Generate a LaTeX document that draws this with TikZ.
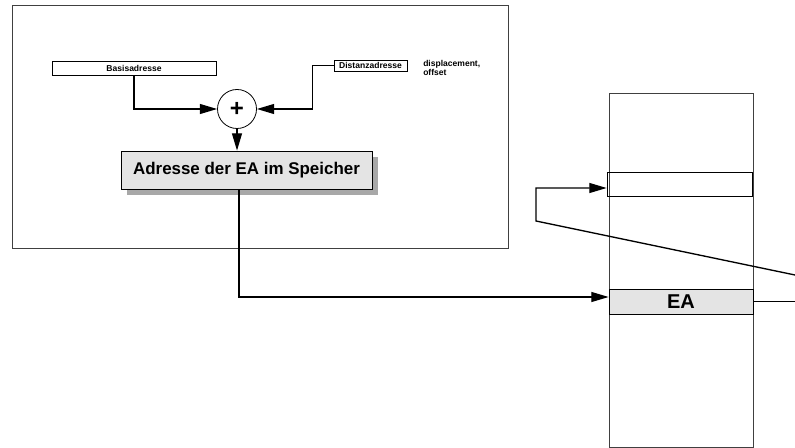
\documentclass[tikz,border=0pt]{standalone}
\usepackage{fontspec}
\setmainfont{Liberation Sans}
\usepackage{tikz}
\usetikzlibrary{positioning,arrows.meta,shadows}
\definecolor{cellgray}{HTML}{E4E4E4}
\definecolor{shadowgray}{HTML}{A8A8A8}
\definecolor{framegray}{HTML}{404040}

\begin{document}
\begin{tikzpicture}[x=0.75pt,y=-0.75pt,
    conn/.style={black,line width=1pt,-{Triangle[length=13pt,width=7.5pt]}},
    wire/.style={black,line width=1pt},
    smallbox/.style={draw,line width=0.6pt,inner sep=0pt,font=\fontsize{6.4}{7}\selectfont\bfseries},
    mem/.style={draw=framegray,line width=0.6pt,inner sep=0pt}]
  \useasboundingbox (0,0) rectangle (795,448);
  % Rechenwerk
  \draw[framegray,line width=0.6pt] (12,5) rectangle (508,248);
  \node[smallbox,minimum width=123pt,minimum height=10.5pt] (basis) at (134,68) {Basisadresse};
  \node[smallbox,minimum width=54.75pt,minimum height=8.25pt] (dist) at (370.5,65.5) {Distanzadresse};
  \node[anchor=west,align=left,inner sep=0pt,font=\fontsize{6.4}{6.6}\selectfont\bfseries] (disp) at (423,68) {displacement,\\offset};
  \node[draw,circle,line width=0.6pt,minimum size=29.25pt,inner sep=0pt,font=\fontsize{18}{18}\selectfont\bfseries] (sum) at (237,109) {+};
  \node[draw,line width=0.6pt,fill=cellgray,minimum width=188.25pt,minimum height=28.5pt,
        drop shadow={shadow xshift=4.5pt,shadow yshift=-4.5pt,fill=shadowgray,opacity=1},
        font=\fontsize{12.7}{14}\selectfont\bfseries] (addr) at (246.5,170) {Adresse der EA im Speicher};
  \draw[conn] (basis.south) |- (sum.west);
  \draw[conn] (dist.west) -- ++(-21,0) |- (sum.east);
  \draw[conn] (sum.south) -- (sum.south |- addr.north);
  % Speicher
  \node[mem,minimum width=108pt,minimum height=265.5pt] (store) at (681,270) {};
  \node[draw,line width=0.6pt,inner sep=0pt,minimum width=108.75pt,minimum height=18pt] (slot) at (679.5,184) {};
  \node[draw,line width=0.6pt,fill=cellgray,inner sep=0pt,minimum width=108pt,minimum height=18.75pt,
        font=\fontsize{15}{15}\selectfont\bfseries] (ea) at (681,301.5) {EA};
  \coordinate (down) at (239,297);
  \coordinate (back) at (536,221);
  \draw[conn] (addr.south -| down) -- (down) -- (down -| ea.west);
  \draw[wire] (ea.east) -- (795,301.5);
  \draw[conn] (795,275) -- (back) -- (536,188) -- (slot.west |- 0,188);
\end{tikzpicture}
\end{document}
